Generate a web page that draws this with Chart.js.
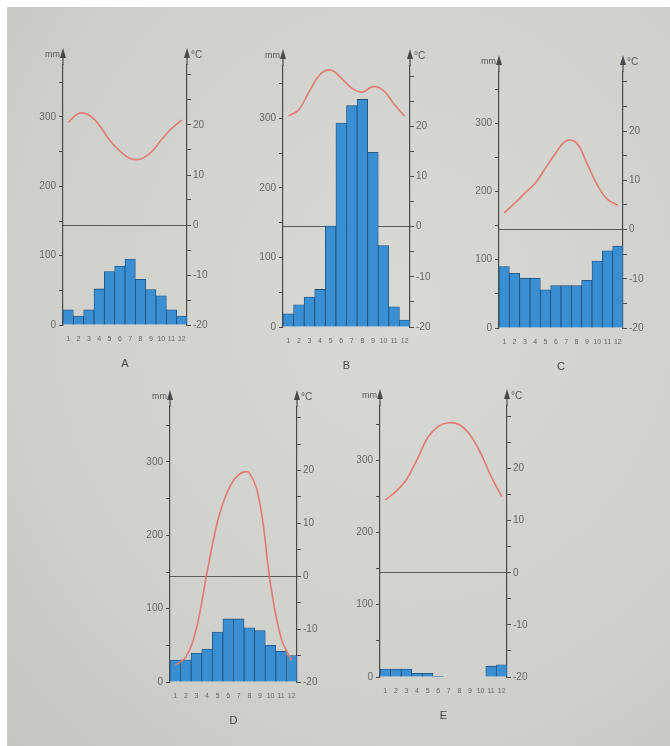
<!DOCTYPE html>
<html>
<head>
<meta charset="utf-8">
<script src="https://cdn.jsdelivr.net/npm/chart.js@4.4.0/dist/chart.umd.min.js"></script>
<style>
  html, body { margin: 0; padding: 0; background: #fff; }
  #page {
    position: absolute; left: 7px; top: 7px; width: 663px; height: 739px;
    background: radial-gradient(ellipse at 60% 40%, #d8d8d5 0%, #d0d0cd 60%, #c6c6c3 100%);
    overflow: hidden;
  }
  .box { position: absolute; }
</style>
</head>
<body>
<div id="page">
  <div class="box" style="left:16px;top:36px;width:204px;height:332px"><canvas id="chartA"></canvas></div>
  <div class="box" style="left:236px;top:37px;width:207px;height:333px"><canvas id="chartB"></canvas></div>
  <div class="box" style="left:452px;top:43px;width:204px;height:328px"><canvas id="chartC"></canvas></div>
  <div class="box" style="left:123px;top:378px;width:207px;height:347px"><canvas id="chartD"></canvas></div>
  <div class="box" style="left:333px;top:377px;width:207px;height:343px"><canvas id="chartE"></canvas></div>
</div>
<script>
// dữ liệu (lượng mưa mm, nhiệt độ °C)
const months = ['1', '2', '3', '4', '5', '6', '7', '8', '9', '10', '11', '12'];
const rainA = [22, 13, 22, 52, 77, 85, 95, 66, 51, 42, 22, 13];
const tempA = [20.5, 22.3, 22, 20, 17, 14.8, 13.3, 13.2, 14.5, 17, 19.3, 21];
const rainB = [19, 32, 43, 54, 145, 293, 318, 327, 251, 117, 29, 10];
const tempB = [22.0, 23.3, 27.0, 30.3, 31.2, 29.6, 27.6, 26.8, 27.9, 27.1, 24.4, 22.0];
const rainC = [90, 80, 73, 73, 56, 62, 62, 62, 70, 98, 113, 120];
const tempC = [3.4, 5.3, 7.4, 9.4, 12.5, 15.6, 18, 17.6, 13.5, 9.1, 6.1, 5];
const rainD = [30, 30, 39, 45, 68, 86, 86, 74, 70, 50, 42, 36];
const tempD = [-16.8, -15.3, -9.8, 0.7, 10.4, 16.3, 19.2, 19.5, 13.7, -1.5, -11.7, -16];
const rainE = [11, 11, 11, 5, 5, 1, 0, 0, 0, 0, 15, 17];
const tempE = [14.0, 15.6, 17.9, 21.7, 25.9, 28.1, 28.8, 28.4, 26.5, 23.0, 18.5, 14.6];
const mmTicks = [0, 100, 200, 300];
const degTicks = [-20, -10, 0, 10, 20];

const axisColor = '#4a4a4a';
const textColor = '#666';
const barColor = '#3a8fd2';
const barBorder = '#1f4d78';
const lineColor = '#e27a70';

Chart.defaults.font.family = "'Liberation Sans', Arial, sans-serif";
Chart.defaults.color = textColor;

// mũi tên ở đầu hai trục + đơn vị
const arrowPlugin = {
  id: 'arrows',
  afterDraw(chart) {
    const { ctx, chartArea } = chart;
    ctx.save();
    ctx.strokeStyle = axisColor;
    ctx.fillStyle = axisColor;
    ctx.lineWidth = 1.2;
    [chartArea.left, chartArea.right].forEach((x) => {
      ctx.beginPath();
      ctx.moveTo(x, chartArea.top);
      ctx.lineTo(x, chartArea.top - 10);
      ctx.stroke();
      ctx.beginPath();
      ctx.moveTo(x, chartArea.top - 17);
      ctx.lineTo(x - 3, chartArea.top - 7);
      ctx.lineTo(x + 3, chartArea.top - 7);
      ctx.closePath();
      ctx.fill();
    });
    ctx.fillStyle = '#555';
    ctx.font = "9px 'Liberation Sans', Arial, sans-serif";
    ctx.textBaseline = 'middle';
    ctx.textAlign = 'right';
    ctx.fillText('mm', chartArea.left - 3, chartArea.top - 10);
    ctx.textAlign = 'left';
    ctx.font = "10px 'Liberation Sans', Arial, sans-serif";
    ctx.fillText('°C', chartArea.right + 4, chartArea.top - 10);
    ctx.restore();
  }
};

function makeClimate(id, letter, rain, temp) {
  const ctx = document.getElementById(id).getContext('2d');
  return new Chart(ctx, {
    type: 'bar',
    data: {
      labels: months,
      datasets: [
        { type: 'line', data: temp, yAxisID: 'y2', borderColor: lineColor, borderWidth: 1.6, pointRadius: 0, tension: 0.4, clip: false, order: 0 },
        { type: 'bar', data: rain, yAxisID: 'y', backgroundColor: barColor, borderColor: barBorder, borderWidth: 0.8, barPercentage: 1, categoryPercentage: 1, order: 1 }
      ]
    },
    options: {
      responsive: true, maintainAspectRatio: false, animation: false,
      layout: { padding: { top: 22, left: 0, right: 0, bottom: 0 } },
      plugins: { legend: { display: false }, tooltip: { enabled: false } },
      scales: {
        x: {
          grid: { display: false }, border: { display: false },
          ticks: { font: { size: 7 }, color: '#666', maxRotation: 0, autoSkip: false, padding: 2 },
          title: { display: true, text: letter, font: { size: 11 }, color: '#444', padding: { top: 10 } },
          afterFit: (s) => { s.height = 50; }
        },
        y: {
          position: 'left', min: 0, max: 375,
          ticks: { stepSize: 50, includeBounds: false, font: { size: 10 }, color: textColor, padding: 3,
            callback: (v) => mmTicks.includes(v) ? String(v) : '' },
          grid: { drawOnChartArea: false, tickLength: 4, color: axisColor },
          border: { display: true, color: axisColor, width: 1.2 },
          afterFit: (s) => { s.width = 40; }
        },
        y2: {
          position: 'right', min: -20, max: 32,
          ticks: { stepSize: 5, includeBounds: false, font: { size: 10 }, color: textColor, padding: 2,
            callback: (v) => degTicks.includes(v) ? String(v) : '' },
          grid: {
            drawOnChartArea: true, tickLength: 4, tickColor: axisColor, lineWidth: 1,
            color: (c) => (c.tick && c.tick.value === 0) ? '#5a5a5a' : 'rgba(0,0,0,0)'
          },
          border: { display: true, color: axisColor, width: 1.2 },
          afterFit: (s) => { s.width = 40; }
        }
      }
    },
    plugins: [arrowPlugin]
  });
}

makeClimate('chartA', 'A', rainA, tempA);
makeClimate('chartB', 'B', rainB, tempB);
makeClimate('chartC', 'C', rainC, tempC);
makeClimate('chartD', 'D', rainD, tempD);
makeClimate('chartE', 'E', rainE, tempE);
</script>
</body>
</html>
